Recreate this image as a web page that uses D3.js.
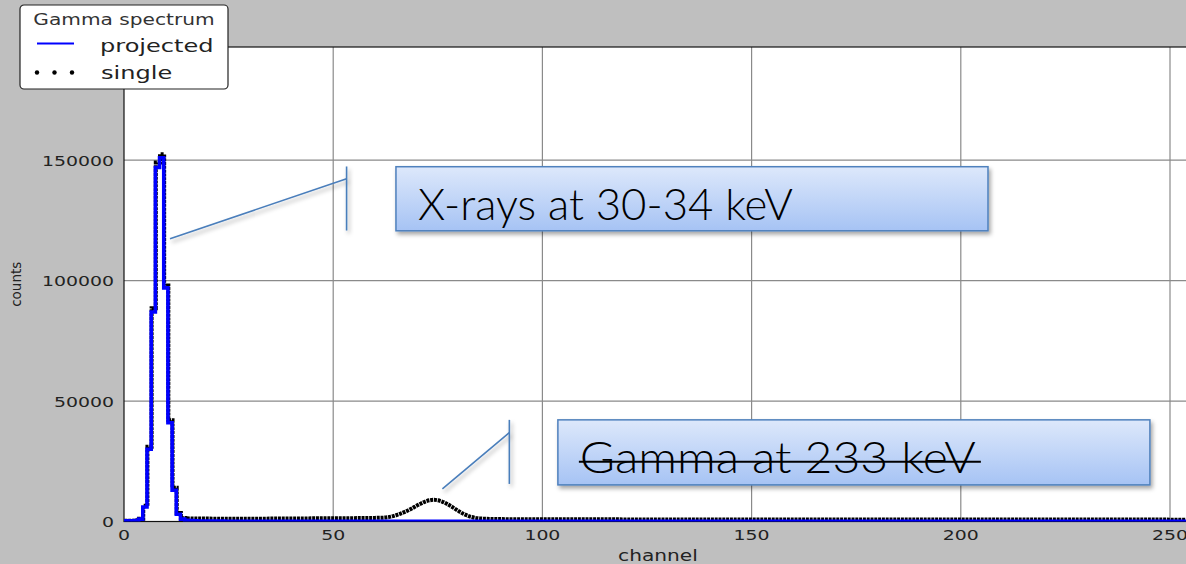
<!DOCTYPE html>
<html>
<head>
<meta charset="utf-8">
<script src="https://cdn.jsdelivr.net/npm/d3@7"></script>
<style>
  body { margin: 0; background: #bfbfbf; }
  svg { display: block; font-family: "DejaVu Sans", sans-serif; }
</style>
</head>
<body>
<div id="chart"></div>
<script>
// Set sizes
var W = 1186, H = 564;
var margin = {top: 47, left: 124, bottom: 42.5};

// data
var projChannel = [0, 1, 2, 3, 4, 5, 6, 7, 8, 9, 10, 11, 12, 13, 14, 15, 16, 17, 18, 30, 60, 100, 150, 200, 256];
var projCounts  = [300, 300, 300, 400, 1000, 6000, 30000, 87000, 147000, 151000, 97000, 41000, 13000, 3000, 1000, 500, 400, 300, 150, 120, 100, 80, 60, 50, 50];

var singleChannel = [0, 2, 3, 4, 5, 6, 7, 8, 9, 10, 11, 12, 13, 14, 15, 16, 18, 20, 25, 30, 35, 40, 45, 50, 55, 58, 60, 62, 63, 64, 65, 66, 67, 68, 69, 70, 71, 72, 73, 74, 75, 76, 77, 78, 79, 80, 81, 82, 83, 84, 85, 86, 88, 90, 95, 100, 110, 120, 140, 160, 180, 200, 220, 240, 256];
var singleCounts  = [300, 300, 500, 1100, 6500, 31000, 88500, 149000, 152500, 98000, 42000, 14000, 3500, 1500, 1300, 1250, 1200, 1200, 1150, 1150, 1200, 1250, 1300, 1350, 1400, 1450, 1500, 1600, 1750, 2100, 2600, 3200, 3900, 4700, 5600, 6600, 7500, 8300, 8800, 9000, 8800, 8300, 7500, 6500, 5400, 4300, 3300, 2500, 1900, 1500, 1300, 1150, 1050, 1000, 950, 900, 900, 880, 850, 850, 850, 850, 800, 800, 750];

var xTicks = [0, 50, 100, 150, 200, 250];
var yTicks = [0, 50000, 100000, 150000];

var legendTitle = "Gamma spectrum";
var legendNames = ["projected", "single"];

// callouts in data units: [channel, counts]
var xrayLead  = [[11.0, 117400], [53.2, 142300]];
var xrayTick  = [[53.2, 147400], [53.2, 120800]];
var xrayBox   = [[65.0, 147300], [206.5, 120700]];
var gammaLead = [[76.1, 13500], [92.1, 36900]];
var gammaTick = [[92.1, 42200], [92.1, 15600]];
var gammaBox  = [[103.7, 42200], [245.2, 15200]];
var noteTexts = ["X-rays at 30-34 keV", "Gamma at 233 keV"];

// scales
var x = d3.scaleLinear().domain([0, 256]).range([margin.left, margin.left + 256 * 4.184]);
var y = d3.scaleLinear().domain([0, 197000]).range([H - margin.bottom, margin.top]);

var svg = d3.select("#chart").append("svg")
  .attr("width", W).attr("height", H);

var defs = svg.append("defs");
var grad = defs.append("linearGradient").attr("id", "boxfill")
  .attr("x1", 0).attr("y1", 0).attr("x2", 0).attr("y2", 1);
grad.append("stop").attr("offset", "0%").attr("stop-color", "#dde8fb");
grad.append("stop").attr("offset", "100%").attr("stop-color", "#a6c3f4");
defs.append("filter").attr("id", "shadow")
  .attr("filterUnits", "userSpaceOnUse")
  .attr("x", 0).attr("y", 0).attr("width", W).attr("height", H)
  .append("feDropShadow")
  .attr("dx", 2).attr("dy", 3).attr("stdDeviation", 2)
  .attr("flood-color", "#000").attr("flood-opacity", 0.35);
defs.append("clipPath").attr("id", "plotclip")
  .append("rect")
  .attr("x", x(0)).attr("y", y.range()[1])
  .attr("width", x(256) - x(0)).attr("height", y(0) - y.range()[1]);

// plot background
svg.append("rect")
  .attr("x", x(0)).attr("y", y.range()[1])
  .attr("width", x(256) - x(0)).attr("height", y(0) - y.range()[1])
  .attr("fill", "#fff");

// grid
svg.append("g").selectAll("line").data(xTicks.filter(function(d) { return d > 0; }))
  .join("line")
  .attr("x1", function(d) { return x(d); }).attr("x2", function(d) { return x(d); })
  .attr("y1", y.range()[1]).attr("y2", y(0))
  .attr("stroke", "#8a8a8a").attr("stroke-width", 1.2);
svg.append("g").selectAll("line").data(yTicks.filter(function(d) { return d > 0; }))
  .join("line")
  .attr("x1", x(0)).attr("x2", x(256))
  .attr("y1", function(d) { return y(d); }).attr("y2", function(d) { return y(d); })
  .attr("stroke", "#8a8a8a").attr("stroke-width", 1.2);

// frame
svg.append("rect")
  .attr("x", x(0)).attr("y", y.range()[1])
  .attr("width", x(256) - x(0)).attr("height", y(0) - y.range()[1])
  .attr("fill", "none").attr("stroke", "#111").attr("stroke-width", 1.2);

var plot = svg.append("g").attr("clip-path", "url(#plotclip)");

// single (dotted black)
var single = singleChannel.map(function(c, i) { return {c: c, v: singleCounts[i]}; });
var stepLine = d3.line()
  .x(function(d) { return x(d.c + 0.1); })
  .y(function(d) { return y(d.v); })
  .curve(d3.curveStep);
var smoothLine = d3.line()
  .x(function(d) { return x(d.c); })
  .y(function(d) { return y(d.v); })
  .curve(d3.curveMonotoneX);

plot.append("path")
  .datum(single.filter(function(d) { return d.c <= 15; }))
  .attr("d", stepLine)
  .attr("fill", "none").attr("stroke", "#000").attr("stroke-width", 4)
  .attr("stroke-dasharray", "3,0.8");
plot.append("path")
  .datum(single.filter(function(d) { return d.c >= 15; }))
  .attr("d", smoothLine)
  .attr("fill", "none").attr("stroke", "#000").attr("stroke-width", 4)
  .attr("stroke-dasharray", "3,0.8");

// projected (blue steps)
var proj = projChannel.map(function(c, i) { return {c: c, v: projCounts[i]}; });
plot.append("path")
  .datum(proj)
  .attr("d", d3.line()
    .x(function(d) { return x(d.c); })
    .y(function(d) { return y(d.v); })
    .curve(d3.curveStep))
  .attr("fill", "none").attr("stroke", "#0000ff").attr("stroke-width", 3.6)
  .attr("stroke-linejoin", "miter");

// helper: the picture is stretched sideways
function stretch(sel, k) {
  sel.each(function() {
    var len = this.getComputedTextLength();
    d3.select(this).attr("textLength", len * k).attr("lengthAdjust", "spacingAndGlyphs");
  });
}

// tick labels
var xl = svg.append("g").selectAll("text").data(xTicks).join("text")
  .attr("x", function(d) { return x(d); })
  .attr("y", y(0) + 18)
  .attr("text-anchor", "middle")
  .attr("font-size", 14.5).attr("fill", "#222")
  .text(function(d) { return d; });
stretch(xl, 1.3);

var yl = svg.append("g").selectAll("text").data(yTicks).join("text")
  .attr("x", x(0) - 10)
  .attr("y", function(d) { return y(d) + 5.5; })
  .attr("text-anchor", "end")
  .attr("font-size", 14.5).attr("fill", "#222")
  .text(function(d) { return d; });
stretch(yl, 1.3);

// axis titles
var xt = svg.append("text")
  .attr("x", 658).attr("y", 560.5)
  .attr("text-anchor", "middle")
  .attr("font-size", 15.5).attr("fill", "#222")
  .text("channel");
stretch(xt, 1.3);

svg.append("text")
  .attr("transform", "translate(21," + (y(0) + y.range()[1]) / 2 + ") rotate(-90)")
  .attr("text-anchor", "middle")
  .attr("font-size", 13.5).attr("fill", "#222")
  .text("counts");

// callouts
function drawNote(lead, tick, box, label, strike) {
  var g = svg.append("g");
  var ln = d3.line().x(function(d) { return x(d[0]); }).y(function(d) { return y(d[1]); });
  g.append("path").attr("d", ln(lead))
    .attr("stroke", "#4a7ebb").attr("stroke-width", 1.6).attr("fill", "none")
    .attr("filter", "url(#shadow)");
  g.append("path").attr("d", ln(tick))
    .attr("stroke", "#4a7ebb").attr("stroke-width", 1.6).attr("fill", "none")
    .attr("filter", "url(#shadow)");
  var bx = x(box[0][0]), by = y(box[0][1]);
  var bw = x(box[1][0]) - bx, bh = y(box[1][1]) - by;
  g.append("rect")
    .attr("x", bx).attr("y", by).attr("width", bw).attr("height", bh)
    .attr("fill", "url(#boxfill)")
    .attr("stroke", "#4f81bd").attr("stroke-width", 1.5)
    .attr("filter", "url(#shadow)");
  g.append("text")
    .attr("x", bx + 22).attr("y", by + 53)
    .attr("font-family", "Lato, 'Open Sans', sans-serif")
    .attr("font-weight", 300)
    .attr("font-size", 44).attr("fill", "#000")
    .attr("textLength", strike ? 396 : 375).attr("lengthAdjust", "spacingAndGlyphs")
    .text(label);
  if (strike) {
    g.append("line")
      .attr("x1", bx + 21).attr("x2", bx + 423)
      .attr("y1", by + 42).attr("y2", by + 42)
      .attr("stroke", "#000").attr("stroke-width", 2);
  }
}
drawNote(xrayLead, xrayTick, xrayBox, noteTexts[0], false);
drawNote(gammaLead, gammaTick, gammaBox, noteTexts[1], true);

// legend
var leg = svg.append("g");
leg.append("rect")
  .attr("x", 20).attr("y", 5).attr("width", 208).attr("height", 84).attr("rx", 4)
  .attr("fill", "#fff").attr("stroke", "#222").attr("stroke-width", 1.2);
var lt = leg.append("text")
  .attr("x", 124).attr("y", 25).attr("text-anchor", "middle")
  .attr("font-size", 15.5).attr("fill", "#333")
  .text(legendTitle);
stretch(lt, 1.3);
leg.append("line")
  .attr("x1", 37).attr("x2", 74).attr("y1", 43.5).attr("y2", 43.5)
  .attr("stroke", "#0000ff").attr("stroke-width", 2);
leg.selectAll("circle").data([37, 54.5, 72]).join("circle")
  .attr("cx", function(d) { return d; }).attr("cy", 72.5).attr("r", 2.2)
  .attr("fill", "#000");
var ln1 = leg.append("text")
  .attr("x", 100).attr("y", 51.5)
  .attr("font-size", 18.5).attr("fill", "#222")
  .text(legendNames[0]);
var ln2 = leg.append("text")
  .attr("x", 101).attr("y", 78.5)
  .attr("font-size", 18.5).attr("fill", "#222")
  .text(legendNames[1]);
stretch(ln1, 1.3);
stretch(ln2, 1.3);
</script>
</body>
</html>
